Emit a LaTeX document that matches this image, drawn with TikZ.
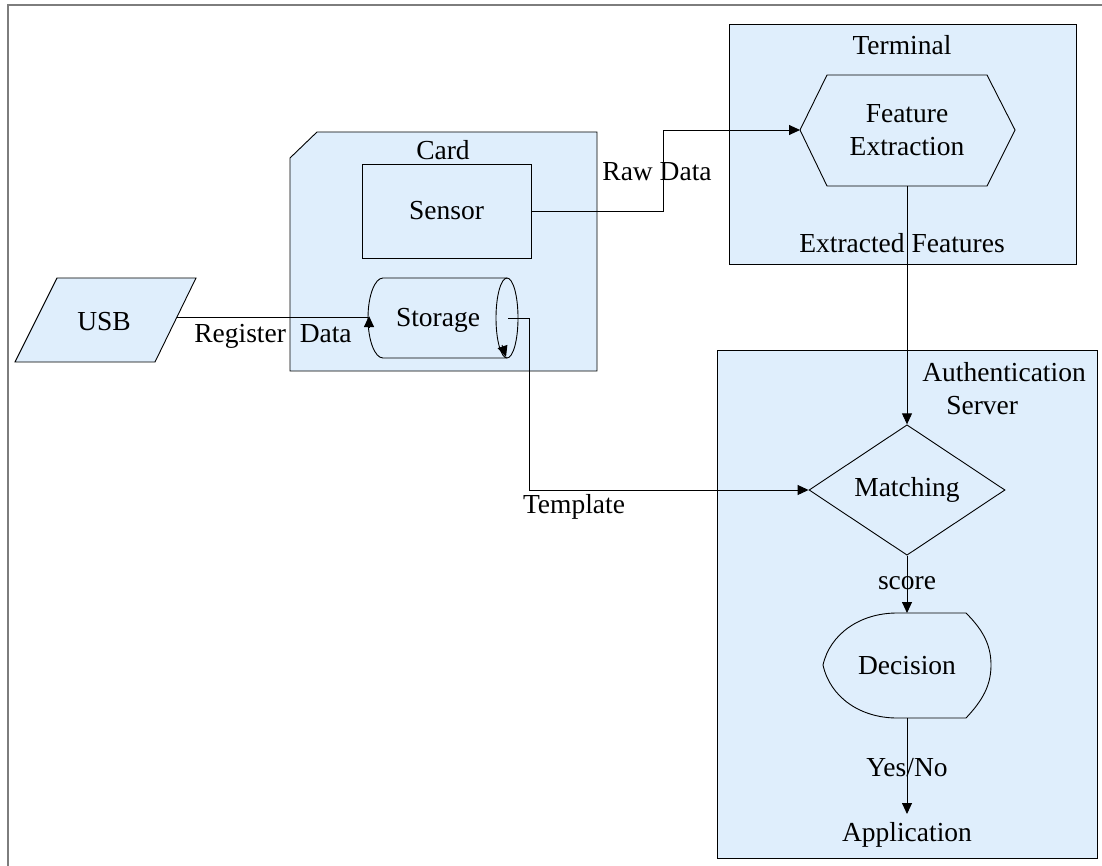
\documentclass[tikz,border=0pt]{standalone}
\usepackage{fontspec}
\setmainfont{Liberation Serif}
\usetikzlibrary{arrows.meta,shapes.geometric,calc}
\definecolor{panel}{RGB}{223,238,252}
\definecolor{framegray}{RGB}{125,125,125}
\begin{document}
\begin{tikzpicture}[x=1pt,y=-1pt,
  every node/.style={font=\fontsize{27.5}{33}\selectfont, inner sep=0pt},
  panelbox/.style={draw=black, fill=panel, line width=0.9pt},
  outline/.style={draw=black, line width=0.9pt},
  link/.style={draw=black, line width=0.9pt},
  arr/.style={link, -{Triangle[length=11pt,width=10pt]}},
  lbl/.style={align=center}]
\useasboundingbox (0,0) rectangle (1102,866);

% page frame (top and left edges)
\draw[framegray, line width=2pt] (8,866) -- (8,5) -- (1102,5);

% ---------- panels ----------
\node[panelbox, minimum width=347pt, minimum height=240pt] (terminal) at (902.5,144) {};
\node[panelbox, minimum width=380pt, minimum height=508pt] (auth) at (907,604) {};
\draw[panelbox] (317,132) -- (597,132) -- (597,371) -- (290,371) -- (290,158) -- cycle;

% ---------- shape outlines ----------
% feature extraction hexagon
\draw[outline] (800,130) -- (827,75) -- (987,75) -- (1015,130) -- (987,186) -- (827,186) -- cycle;
% storage cylinder
\draw[outline] (383,278) -- (507,278)
  (383,358) -- (507,358)
  (383,358) arc[start angle=90, end angle=270, x radius=15, y radius=40];
\draw[outline] (507,318) ellipse[x radius=11, y radius=40];
% decision (display) shape
\draw[outline] (897,613) -- (966,613)
  .. controls (983,630) and (991,645) .. (991,665)
  .. controls (991,685) and (983,700) .. (966,718)
  -- (897,718)
  .. controls (860,718) and (830,697) .. (823,665)
  .. controls (830,634) and (860,613) .. (897,613) -- cycle;
% USB parallelogram
\draw[panelbox] (57,278) -- (196,278) -- (155,362) -- (15,362) -- cycle;

% ---------- nodes ----------
\node (termlbl) at (902,45) {Terminal};
\node[lbl] (feat) at (907,130) {Feature\\Extraction};
\node (cardlbl) at (443,150) {Card};
\node[outline, minimum width=169pt, minimum height=94pt] (sensor) at (446.5,211) {Sensor};
\node (storage) at (438,320) {Storage};
\node (usb) at (104,322) {USB};
\node[align=left] (authlbl) at (1004,389) {Authentication\\\hspace*{24pt}Server};
\node[diamond, outline, minimum width=196pt, minimum height=121pt] (match) at (907,490) {Matching};
\node (dec) at (907,666) {Decision};
\node (app) at (907,835) {Application};

% connector end points on the outlines
\coordinate (featW) at (800,130);
\coordinate (featS) at (907,186);
\coordinate (storW) at (368,317);
\coordinate (storC) at (508,318);
\coordinate (usbR) at (177,317);
\coordinate (decN) at (907,613);
\coordinate (decS) at (907,718);
\coordinate (appN) at (907,814);

% ---------- connectors ----------
\draw[arr] (sensor.east) -- ++(132,0) |- (featW);
\draw[arr] (featS) -- (match.north);
\draw[link] (usbR) -- (storW);
\draw[arr] (369,328) -- (369,316);
\draw[arr] (502,345) -- (506,357);
\draw[arr] (storC) -- ++(21,0) |- (match.west);
\draw[arr] (match.south) -- (decN);
\draw[arr] (decS) -- (appN);

% ---------- connector labels ----------
\node (rawlbl) at (657,172) {Raw Data};
\node (reglbl) at (273,336) {Register\ \ Data};
\node (extlbl) at (902,243) {Extracted Features};
\node (tpllbl) at (574,507) {Template};
\node (scorelbl) at (907,583) {score};
\node (yesnolbl) at (907,768) {Yes/No};
\end{tikzpicture}
\end{document}
